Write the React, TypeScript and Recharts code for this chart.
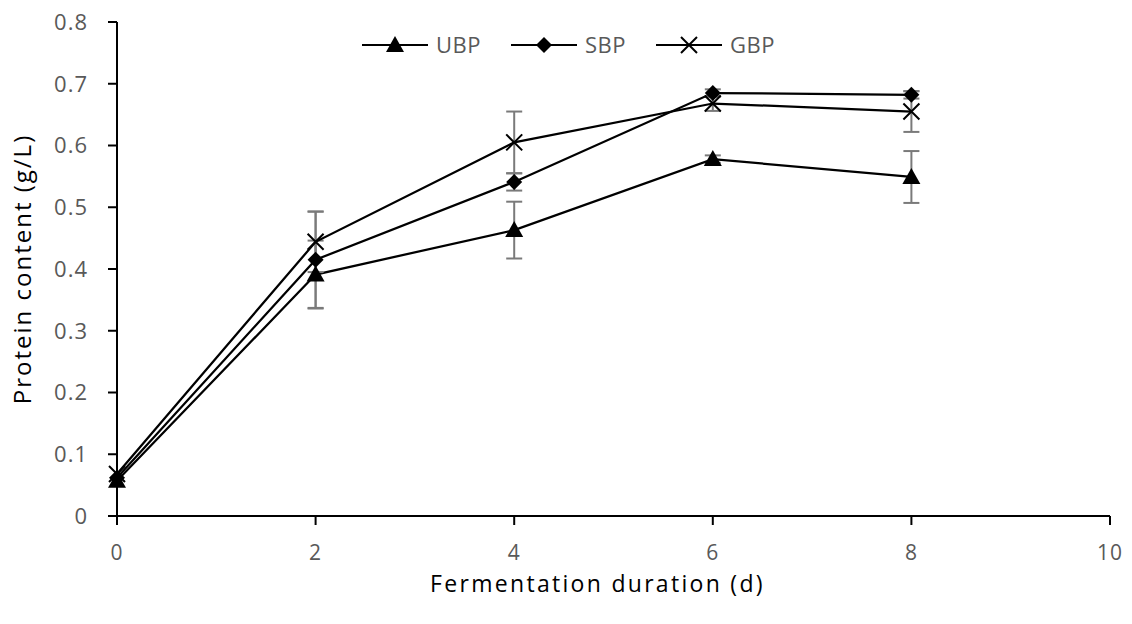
import { LineChart, Line, XAxis, YAxis, ErrorBar, Legend, Label } from 'recharts'

const days = [0, 2, 4, 6, 8]
const ubp = [0.057, 0.391, 0.463, 0.578, 0.549]
const sbp = [0.062, 0.415, 0.541, 0.685, 0.682]
const gbp = [0.068, 0.444, 0.605, 0.668, 0.655]
const ubpErr = [null, 0.055, 0.046, 0.006, 0.042]
const sbpErr = [null, 0.078, 0.014, 0.006, 0.006]
const gbpErr = [null, 0.049, 0.05, 0.012, 0.033]
const xTicks = [0, 2, 4, 6, 8, 10]
const yTicks = [0, 0.1, 0.2, 0.3, 0.4, 0.5, 0.6, 0.7, 0.8]

const data = days.map((d, i) => ({
  day: d, ubp: ubp[i], sbp: sbp[i], gbp: gbp[i],
  ubpErr: ubpErr[i], sbpErr: sbpErr[i], gbpErr: gbpErr[i],
}))

const FONT = '"Open Sans", "Noto Sans", sans-serif'
const TXT = '#595959'
const ERR = '#7a7a7a'

const tri = (cx: number, cy: number, key?: any) => (
  <path key={key} d={`M${cx},${cy - 9} L${cx + 9},${cy + 7} L${cx - 9},${cy + 7} Z`} fill="#000" />
)
const dia = (cx: number, cy: number, key?: any) => (
  <path key={key} d={`M${cx},${cy - 8} L${cx + 8},${cy} L${cx},${cy + 8} L${cx - 8},${cy} Z`} fill="#000" />
)
const cross = (cx: number, cy: number, key?: any) => (
  <path key={key} d={`M${cx - 8},${cy - 8} L${cx + 8},${cy + 8} M${cx + 8},${cy - 8} L${cx - 8},${cy + 8}`} stroke="#000" strokeWidth={2} fill="none" />
)

const dotOf = (fn: typeof tri) => (p: any) => fn(p.cx, p.cy, p.index)

function LegendBox() {
  const items = [
    { name: 'UBP', m: tri, x: 362 },
    { name: 'SBP', m: dia, x: 511 },
    { name: 'GBP', m: cross, x: 656 },
  ]
  return (
    <svg width={1132} height={40}>
      {items.map(it => (
        <g key={it.name}>
          <line x1={it.x} x2={it.x + 66} y1={20} y2={20} stroke="#000" strokeWidth={2} />
          {it.m(it.x + 33, 20)}
          <text x={it.x + 74} y={28} fontSize={22} letterSpacing={0.5} fill={TXT} fontFamily={FONT}>{it.name}</text>
        </g>
      ))}
    </svg>
  )
}

const XTick = ({ x, y, payload }: any) => (
  <text x={x} y={y} dy="0.71em" textAnchor="middle" fontSize={21} letterSpacing={1} fill={TXT} fontFamily={FONT}>
    {payload.value}
  </text>
)
const YTick = ({ x, y, payload }: any) => (
  <text x={x} y={y} dy="0.36em" textAnchor="end" fontSize={22} letterSpacing={1} fill={TXT} fontFamily={FONT}>
    {payload.value}
  </text>
)

export default function App() {
  return (
    <div style={{ position: 'absolute', left: 0, top: 0, background: '#fff' }}>
      <LineChart width={1132} height={624} data={data} margin={{ top: 22, right: 22, left: 0, bottom: 0 }}>
        <XAxis
          dataKey="day" type="number" domain={[0, 10]} ticks={xTicks} height={108}
          axisLine={{ stroke: '#000', strokeWidth: 2 }} tickLine={{ stroke: '#000', strokeWidth: 2 }} tickSize={9}
          tick={<XTick />} tickMargin={20}
        >
          <Label value="Fermentation duration (d)" position="insideBottom" offset={32} dx={-16}
            style={{ fill: '#000', fontSize: 23, fontFamily: FONT, letterSpacing: 2.3 }} />
        </XAxis>
        <YAxis
          type="number" domain={[0, 0.8]} ticks={yTicks} width={117}
          axisLine={{ stroke: '#000', strokeWidth: 2 }} tickLine={{ stroke: '#000', strokeWidth: 2 }} tickSize={9}
          tick={<YTick />} tickMargin={20}
        >
          <Label value="Protein content (g/L)" angle={-90} position="insideLeft" offset={22}
            style={{ fill: '#000', fontSize: 24, fontFamily: FONT, textAnchor: 'middle', letterSpacing: 2 }} />
        </YAxis>
        <Legend layout="horizontal" verticalAlign="middle" align="center" content={() => <LegendBox />}
          wrapperStyle={{ top: 25, left: 0, width: 1132, height: 40 }} />
        <Line dataKey="ubp" stroke="#000" strokeWidth={2.25} dot={dotOf(tri)} isAnimationActive={false}>
          <ErrorBar dataKey="ubpErr" width={8} stroke={ERR} strokeWidth={2} direction="y" isAnimationActive={false} />
        </Line>
        <Line dataKey="sbp" stroke="#000" strokeWidth={2.25} dot={dotOf(dia)} isAnimationActive={false}>
          <ErrorBar dataKey="sbpErr" width={8} stroke={ERR} strokeWidth={2} direction="y" isAnimationActive={false} />
        </Line>
        <Line dataKey="gbp" stroke="#000" strokeWidth={2.25} dot={dotOf(cross)} isAnimationActive={false}>
          <ErrorBar dataKey="gbpErr" width={8} stroke={ERR} strokeWidth={2} direction="y" isAnimationActive={false} />
        </Line>
      </LineChart>
    </div>
  )
}
